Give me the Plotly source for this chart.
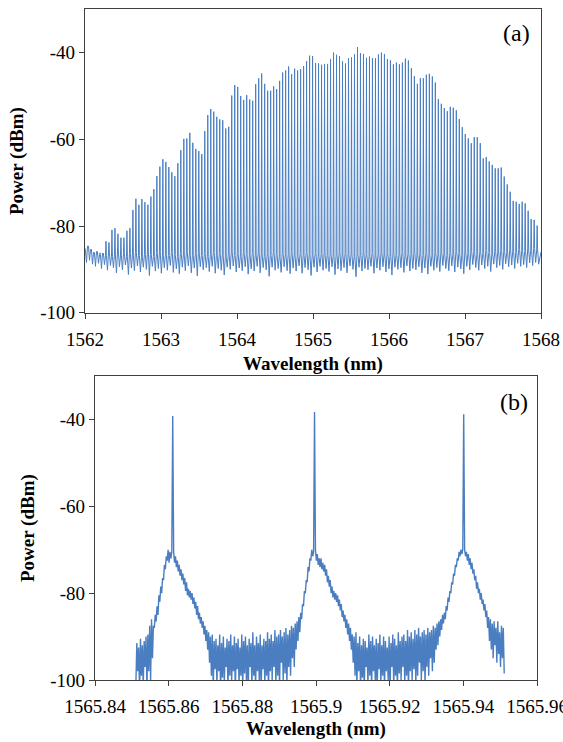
import numpy as np
import plotly.graph_objects as go

# ---------------- Panel (a): comb spectrum 1562-1568 nm ----------------
comb_start_nm = 1562.0
comb_spacing_nm = 0.0394
# power at each comb position (first 7 positions: no comb line, noise only)
comb_peak_dbm = [
    -85.2, -84.8, -85.6, -86.0, -86.4, -86.2, -86.7,
    -83.5, -83.8, -80.9, -80.5, -81.8, -82.7, -82.7, -81.1, -80.5, -76.3,
    -73.7, -75.1, -73.8, -74.5, -75.1, -73.2, -71.5, -68.5, -66.3, -64.6,
    -65.2, -66.4, -67.6, -68.5, -65.5, -62.5, -59.9, -59.8, -58.5, -60.8,
    -62.2, -62.7, -63.4,
    -58.1, -54.4, -53.0, -53.6, -54.8, -55.4, -55.6, -57.5, -57.1, -49.9,
    -47.5, -47.9, -50.0, -50.9, -49.8, -50.8, -51.1, -47.3, -45.9, -44.8,
    -47.2, -48.8, -48.8, -47.8, -48.4, -46.5, -44.6, -44.1, -43.2, -45.0,
    -43.7, -44.1, -43.8, -43.1, -42.0, -40.7, -40.8, -42.4,
    -42.5, -42.8, -42.6, -42.6, -41.5, -40.0, -40.5, -40.8, -42.0, -42.5,
    -41.3, -41.1, -40.4, -38.7, -40.1, -40.3, -41.2, -40.9, -41.3, -41.3,
    -40.4, -40.0, -40.3, -41.5, -41.8, -42.7, -42.3, -42.7, -42.3, -41.4,
    -41.8, -43.6, -45.4, -47.2, -45.9, -45.9, -45.1, -44.9,
    -45.5, -46.9, -50.7, -51.8, -52.8, -53.5, -52.5, -52.7, -53.3, -55.3,
    -57.2, -58.8, -59.8, -60.9, -59.5, -59.5, -60.9, -64.4, -64.1, -65.1,
    -65.9, -66.7, -66.7, -66.5, -68.6, -70.4, -72.1, -74.2, -74.4, -74.9,
    -74.4, -74.8, -76.5, -78.4, -78.6, -79.9,
]
# noise floor at the foot of each line
floor_top_dbm = [
    -85.8, -84.6, -85.4, -86.2, -85.9, -86.6, -86.3, -86.8, -86.2, -87.0,
    -86.5, -86.0, -86.9, -86.4, -87.1, -86.3, -86.7, -86.1, -86.8, -87.2,
    -86.5, -86.0, -86.6, -87.0, -86.4, -86.2, -86.9, -86.5, -86.8, -86.1,
    -86.6, -87.1, -86.3, -86.7, -86.0, -86.5, -86.9, -86.4, -86.2, -86.8,
    -86.4, -87.0, -86.6, -86.1, -86.9, -86.3, -86.7, -87.2, -86.5, -86.0,
    -86.8, -86.4, -87.1, -86.2, -86.6, -86.9, -86.3, -86.7, -86.0, -86.5,
    -87.0, -86.4, -86.8, -86.1, -86.6, -87.2, -86.3, -86.9, -86.5, -86.2,
    -86.7, -87.0, -86.4, -86.8, -86.1, -86.6, -86.9, -86.3, -87.1, -86.5,
    -86.2, -86.8, -86.4, -87.0, -86.6, -86.1, -86.9, -86.3, -86.7, -86.5,
    -87.1, -86.4, -86.8, -86.2, -86.6, -87.0, -86.3, -86.9, -86.5, -86.1,
    -86.7, -86.4, -87.0, -86.2, -86.8, -86.5, -86.1, -86.9, -86.3, -86.6,
    -86.0, -86.7, -86.3, -86.8, -86.1, -86.5, -86.9, -86.2, -86.6, -86.0,
    -86.4, -86.8, -86.1, -86.5, -85.9, -86.3, -86.7, -86.0, -86.4, -85.8,
    -86.2, -86.6, -85.9, -86.3, -85.7, -86.1, -86.5, -85.8, -86.0, -85.6,
    -85.9, -86.2, -85.5, -85.8, -86.1, -85.4, -85.7, -85.9, -85.3, -85.6,
    -85.2, -85.5,
]
# noise floor dip between neighbouring lines
floor_dip_dbm = [
    -88.4, -87.9, -88.8, -89.3, -88.6, -89.8, -88.9, -90.2, -89.1, -89.6,
    -90.8, -89.4, -90.1, -89.0, -91.2, -89.7, -90.3, -89.2, -90.6, -89.5,
    -90.0, -91.4, -89.3, -90.4, -89.8, -90.9, -89.6, -90.2, -89.1, -90.7,
    -89.9, -91.0, -89.5, -90.3, -89.2, -90.8, -89.7, -91.5, -89.4, -90.1,
    -89.6, -90.5, -89.3, -90.9, -89.8, -90.2, -91.3, -89.5, -90.0, -89.2,
    -90.6, -89.7, -90.3, -89.4, -91.1, -89.9, -90.4, -89.3, -90.8, -89.6,
    -90.1, -91.6, -89.5, -90.2, -89.8, -90.7, -89.4, -90.3, -91.0, -89.7,
    -90.4, -89.2, -90.9, -89.6, -90.1, -91.4, -89.5, -90.6, -89.3, -90.2,
    -89.8, -90.5, -89.4, -91.2, -89.9, -90.3, -89.6, -90.8, -89.2, -90.0,
    -91.7, -89.5, -90.4, -89.8, -90.1, -89.3, -90.9, -89.7, -90.2, -89.4,
    -90.6, -89.9, -91.3, -89.5, -90.0, -89.6, -90.7, -89.2, -90.4, -89.8,
    -90.1, -89.4, -90.8, -89.7, -91.1, -89.3, -90.2, -89.6, -90.5, -89.1,
    -89.8, -90.3, -89.2, -90.6, -89.5, -89.9, -91.0, -89.3, -90.1, -88.9,
    -89.6, -90.2, -89.0, -89.8, -89.3, -90.5, -88.8, -89.6, -89.1, -90.0,
    -88.7, -89.4, -89.0, -89.8, -88.6, -89.3, -88.9, -89.6, -88.5, -89.1,
    -88.4, -88.8,
]
span_end_nm = 1568.0
span_end_dbm = -86.0

# ---------------- Panel (b): zoom on three comb lines ----------------
zoom_start_nm = 1565.8511
zoom_step_nm = 0.00025
zoom_dbm = [
    -101, -91.5, -98, -92.5, -103, -90.5, -99, -92, -101.5, -91,
    -97, -90, -102, -89.5, -98, -87.5, -100, -86, -95, -87.5,
    -88, -85, -86.5, -83, -85, -80.5, -82, -78.5, -80, -76.5,
    -77, -73.5, -74.5, -71.5, -72.5, -70, -73, -70.5, -72, -70.5,
    -39.2, -70.5, -73, -71.5, -74, -72.5, -75, -73.5, -76, -74.5,
    -77, -75.5, -78, -76.5, -79.5, -77.5, -80.5, -79, -81, -79.5,
    -81.5, -80, -82.5, -81, -83.5, -82, -85, -83, -86, -84.5,
    -87, -85.5, -88, -86.5, -89.5, -87.5, -91, -88.5, -93, -89,
    -96, -90, -99, -89.5, -102, -91, -97.5, -90.5, -101, -92,
    -98, -89.5, -103, -91.5, -99.5, -90, -101, -92.5, -97, -90.5,
    -102, -91, -99, -89.5, -100.5, -92, -98, -90, -103, -91.5,
    -97.5, -90.5, -101, -92.5, -99, -89.5, -102, -91, -98.5, -90,
    -100, -92, -103, -90.5, -97, -91.5, -101.5, -89, -99, -92,
    -102, -90, -98, -91.5, -100, -89.5, -103, -92, -97.5, -90.5,
    -101, -91, -99, -89, -102.5, -90.5, -98, -89.5, -100, -91,
    -97, -88.5, -101, -90, -99, -89.5, -102, -88.5, -96, -90,
    -100, -89, -98.5, -88, -101, -89.5, -97, -88.5, -99, -87.5,
    -95, -88, -97, -87, -93, -86.5, -91, -85.5, -89, -84.5,
    -86, -82.5, -83, -79.5, -80, -77, -77.5, -74, -75, -72,
    -72.5, -70, -71.5, -70.5, -38.3, -70, -72.5, -71, -73.5, -72,
    -74, -72, -74.5, -73, -75, -73.5, -76, -74.5, -77.5, -76,
    -78.5, -77, -80, -78.5, -81, -79.5, -81.5, -80, -82, -80.5,
    -83, -81.5, -84, -82.5, -85.5, -84, -86.5, -85, -88, -86,
    -89.5, -87, -91, -88, -93, -89.5, -96, -90, -99, -89,
    -101, -91.5, -98, -90, -102, -92, -99.5, -90.5, -103, -91,
    -97, -92.5, -101, -89.5, -99, -91, -102, -90, -98, -92,
    -100.5, -90.5, -103, -91.5, -97.5, -89.5, -101, -92, -99, -90,
    -102, -91, -98, -92.5, -100, -90, -103, -91.5, -97, -89.5,
    -101.5, -90.5, -99, -92, -102, -89, -98.5, -91, -100, -90,
    -97, -89.5, -101, -91, -99, -88.5, -102.5, -90, -98, -89,
    -100, -90.5, -97.5, -88.5, -101, -89.5, -99, -88, -96, -90,
    -100, -89, -98, -88.5, -101, -89.5, -97, -88, -99, -89,
    -95, -88.5, -98, -87.5, -96, -88, -93, -87, -92, -86.5,
    -90, -86, -88.5, -85, -87, -84.5, -86, -83, -84, -81,
    -82, -79.5, -80, -77.5, -78, -75.5, -76, -73.5, -74, -72,
    -72.5, -70.5, -71.5, -70, -71, -70, -38.8, -70, -71.5, -70.5,
    -72.5, -71, -73.5, -72, -74.5, -73, -75.5, -74.5, -77, -76,
    -79, -77.5, -80, -79, -81.5, -80, -82.5, -81.5, -84, -82.5,
    -85.5, -84, -88, -85.5, -91, -86, -93, -87, -95, -86.5,
    -92, -88, -96, -86.5, -94, -89, -97, -87.5, -95, -88,
    -98.5,
]

# ---------------- ticks ----------------
x_ticks_a = [1562, 1563, 1564, 1565, 1566, 1567, 1568]
x_ticklabels_a = ["1562", "1563", "1564", "1565", "1566", "1567", "1568"]
x_ticks_b = [1565.84, 1565.86, 1565.88, 1565.90, 1565.92, 1565.94, 1565.96]
x_ticklabels_b = ["1565.84", "1565.86", "1565.88", "1565.9", "1565.92", "1565.94", "1565.96"]
y_ticks = [-100, -80, -60, -40]
y_ticklabels = ["-100", "-80", "-60", "-40"]

# ---------------- build traces ----------------
BLUE = "rgb(74,126,193)"
FRAME = "#404040"
FONT = "Liberation Serif"

n = len(comb_peak_dbm)
wl = comb_start_nm + comb_spacing_nm * np.arange(n)
half = 0.006
xa, ya = [], []
for i in range(n):
    xa += [wl[i] - half, wl[i], wl[i] + half, wl[i] + comb_spacing_nm / 2]
    ya += [floor_top_dbm[i], comb_peak_dbm[i], floor_top_dbm[i], floor_dip_dbm[i]]
xa.append(span_end_nm)
ya.append(span_end_dbm)

xb = zoom_start_nm + zoom_step_nm * np.arange(len(zoom_dbm))

fig = go.Figure()
fig.add_trace(go.Scatter(x=xa, y=ya, mode="lines", line=dict(color=BLUE, width=1),
                         xaxis="x", yaxis="y", hoverinfo="skip"))
fig.add_trace(go.Scatter(x=xb, y=zoom_dbm, mode="lines", line=dict(color=BLUE, width=1.4),
                         xaxis="x2", yaxis="y2", hoverinfo="skip"))

W, H = 563, 742
common = dict(showline=True, linecolor=FRAME, linewidth=1.3, mirror=True,
              ticks="outside", ticklen=5, tickwidth=1.3, tickcolor=FRAME,
              showgrid=False, zeroline=False, automargin=False,
              tickfont=dict(family=FONT, size=19, color="black"))

fig.update_layout(
    width=W, height=H, margin=dict(l=0, r=0, t=0, b=0, autoexpand=False),
    paper_bgcolor="white", plot_bgcolor="white", showlegend=False,
    xaxis=dict(domain=[85 / W, 541 / W], range=[1562, 1568], anchor="y",
               tickmode="array", tickvals=x_ticks_a, ticktext=x_ticklabels_a,
               ticklabelstandoff=4, ticklabeloverflow="allow", **common),
    yaxis=dict(domain=[1 - 312.7 / H, 1 - 9.3 / H], range=[-100, -30], anchor="x",
               tickmode="array", tickvals=y_ticks, ticktext=y_ticklabels, **common),
    xaxis2=dict(domain=[95 / W, 537 / W], range=[1565.84, 1565.96], anchor="y2",
                tickmode="array", tickvals=x_ticks_b, ticktext=x_ticklabels_b,
                ticklabelstandoff=4, ticklabeloverflow="allow", **common),
    yaxis2=dict(domain=[1 - 680 / H, 1 - 376 / H], range=[-100, -30], anchor="x2",
                tickmode="array", tickvals=y_ticks, ticktext=y_ticklabels, **common),
)

title_font = dict(family=FONT, size=19, color="black")
annos = [
    dict(text="<b>Power (dBm)</b>", x=17 / W, y=1 - 161 / H, textangle=-90),
    dict(text="<b>Wavelength (nm)</b>", x=313 / W, y=1 - 364 / H, textangle=0),
    dict(text="<b>Power (dBm)</b>", x=28 / W, y=1 - 528 / H, textangle=-90),
    dict(text="<b>Wavelength (nm)</b>", x=316 / W, y=1 - 729 / H, textangle=0),
]
for a in annos:
    fig.add_annotation(xref="paper", yref="paper", xanchor="center", yanchor="middle",
                       showarrow=False, font=title_font, **a)
fig.add_annotation(text="(a)", xref="paper", yref="paper", x=516 / W, y=1 - 33 / H,
                   xanchor="center", yanchor="middle", showarrow=False,
                   font=dict(family=FONT, size=24, color="black"))
fig.add_annotation(text="(b)", xref="paper", yref="paper", x=514 / W, y=1 - 402 / H,
                   xanchor="center", yanchor="middle", showarrow=False,
                   font=dict(family=FONT, size=24, color="black"))

fig.write_html("out.html", config={"displayModeBar": False},
               post_script="document.body.style.margin='0';")
